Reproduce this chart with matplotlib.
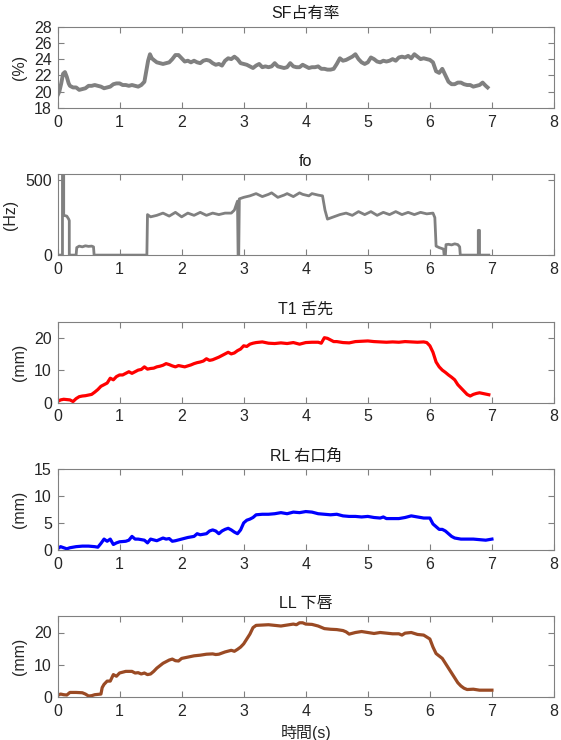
import numpy as np
import matplotlib
matplotlib.use("Agg")
import matplotlib.pyplot as plt

plt.rcParams['font.family'] = ['Liberation Sans', 'Noto Sans CJK JP']

# -----------------------------
# data
# -----------------------------
sf_t = [0.0, 0.03, 0.06, 0.09, 0.12, 0.15, 0.18, 0.2, 0.25, 0.3, 0.35, 0.4, 0.45, 0.5,
        0.55, 0.6, 0.65, 0.7, 0.75, 0.8, 0.85, 0.9, 0.95, 1.0, 1.05, 1.1, 1.15, 1.2,
        1.25, 1.3, 1.35, 1.4, 1.43, 1.46, 1.49, 1.52, 1.55, 1.6, 1.65, 1.7, 1.75, 1.8,
        1.85, 1.9, 1.95, 2.0, 2.05, 2.1, 2.15, 2.2, 2.25, 2.3, 2.35, 2.4, 2.45, 2.5,
        2.55, 2.6, 2.65, 2.7, 2.75, 2.8, 2.85, 2.9, 2.95, 3.0, 3.05, 3.1, 3.15, 3.2,
        3.25, 3.3, 3.35, 3.4, 3.45, 3.5, 3.55, 3.6, 3.65, 3.7, 3.75, 3.8, 3.85, 3.9,
        3.95, 4.0, 4.05, 4.1, 4.15, 4.2, 4.25, 4.3, 4.35, 4.4, 4.45, 4.5, 4.55, 4.6,
        4.65, 4.7, 4.75, 4.8, 4.85, 4.9, 4.95, 5.0, 5.05, 5.1, 5.15, 5.2, 5.25, 5.3,
        5.35, 5.4, 5.45, 5.5, 5.55, 5.6, 5.65, 5.7, 5.75, 5.8, 5.85, 5.9, 5.95, 6.0,
        6.05, 6.1, 6.15, 6.2, 6.25, 6.3, 6.35, 6.4, 6.45, 6.5, 6.55, 6.6, 6.65, 6.7,
        6.75, 6.8, 6.85, 6.9, 6.93]
sf_v = [19.5, 20.0, 21.0, 22.2, 22.4, 21.8, 21.0, 20.7, 20.5, 20.5, 20.2, 20.3, 20.4, 20.7,
        20.7, 20.8, 20.7, 20.6, 20.4, 20.5, 20.6, 20.9, 21.0, 21.0, 20.8, 20.8, 20.7, 20.8,
        20.7, 20.6, 20.8, 21.2, 22.5, 23.8, 24.6, 24.1, 23.9, 23.6, 23.5, 23.4, 23.5, 23.6,
        24.0, 24.5, 24.5, 24.1, 23.7, 23.8, 23.6, 23.8, 23.6, 23.5, 23.8, 23.9, 23.8, 23.5,
        23.3, 23.4, 23.2, 23.8, 24.1, 24.0, 24.3, 24.0, 23.5, 23.4, 23.3, 23.1, 22.9, 23.2,
        23.4, 23.0, 23.1, 23.0, 23.1, 23.5, 23.1, 23.0, 22.9, 23.0, 23.5, 23.1, 23.0, 23.0,
        23.3, 23.1, 22.9, 23.0, 23.0, 23.1, 22.8, 22.8, 22.7, 22.7, 22.8, 23.4, 24.1, 23.8,
        23.9, 24.1, 24.3, 24.6, 24.0, 23.6, 23.4, 23.6, 24.2, 24.0, 23.7, 23.6, 23.8, 23.7,
        23.8, 24.0, 23.8, 24.2, 24.3, 24.2, 24.4, 24.1, 24.6, 24.3, 24.0, 24.1, 24.0, 23.9,
        23.6, 22.5, 22.3, 22.8, 22.0, 21.2, 20.9, 20.9, 21.1, 21.1, 20.9, 20.8, 20.8, 20.6,
        20.7, 20.8, 21.1, 20.7, 20.5]

fo_t = [0.0, 0.08, 0.08, 0.1, 0.1, 0.15, 0.18, 0.19, 0.19, 0.3, 0.31, 0.35, 0.4, 0.45,
        0.5, 0.55, 0.58, 0.59, 1.44, 1.45, 1.5, 1.6, 1.7, 1.8, 1.9, 2.0, 2.1, 2.2, 2.3,
        2.4, 2.5, 2.6, 2.7, 2.8, 2.85, 2.9, 2.91, 2.92, 2.93, 3.0, 3.1, 3.2, 3.3, 3.4,
        3.45, 3.55, 3.65, 3.7, 3.8, 3.9, 3.95, 4.05, 4.1, 4.2, 4.27, 4.31, 4.35, 4.45,
        4.55, 4.65, 4.75, 4.85, 4.95, 5.05, 5.15, 5.25, 5.35, 5.45, 5.55, 5.65, 5.75,
        5.85, 5.95, 6.05, 6.08, 6.1, 6.15, 6.22, 6.23, 6.25, 6.26, 6.3, 6.35, 6.4, 6.45,
        6.48, 6.49, 6.78, 6.78, 6.8, 6.8, 6.95]
fo_v = [0, 0, 560, 560, 265, 260, 240, 230, 0, 0, 50, 60, 55, 62,
        58, 60, 55, 0, 0, 270, 255, 265, 280, 260, 285, 255, 280, 265, 285,
        265, 280, 270, 280, 280, 300, 360, 0, 0, 375, 385, 395, 410, 390, 405,
        415, 385, 400, 410, 390, 415, 405, 395, 410, 400, 395, 300, 240, 255,
        270, 280, 265, 290, 270, 290, 265, 285, 270, 290, 270, 285, 270,
        285, 275, 280, 250, 60, 50, 40, 0, 0, 70, 72, 68, 75, 70,
        55, 0, 0, 165, 165, 0, 0]

t1_t = [0.0, 0.05, 0.1, 0.15, 0.2, 0.25, 0.3, 0.35, 0.4, 0.45, 0.5, 0.55, 0.6, 0.65,
        0.7, 0.75, 0.8, 0.85, 0.9, 0.95, 1.0, 1.05, 1.1, 1.15, 1.2, 1.25, 1.3, 1.35,
        1.4, 1.45, 1.5, 1.55, 1.6, 1.65, 1.7, 1.75, 1.8, 1.85, 1.9, 1.95, 2.0, 2.05,
        2.1, 2.15, 2.2, 2.25, 2.3, 2.35, 2.4, 2.45, 2.5, 2.55, 2.6, 2.65, 2.7, 2.75,
        2.8, 2.85, 2.9, 2.95, 3.0, 3.05, 3.1, 3.15, 3.2, 3.3, 3.4, 3.5, 3.6, 3.7, 3.8,
        3.9, 4.0, 4.1, 4.2, 4.25, 4.3, 4.35, 4.4, 4.45, 4.5, 4.6, 4.7, 4.8, 4.9, 5.0,
        5.1, 5.2, 5.3, 5.4, 5.5, 5.6, 5.7, 5.8, 5.9, 5.95, 6.0, 6.05, 6.1, 6.15, 6.2,
        6.25, 6.3, 6.35, 6.4, 6.45, 6.5, 6.55, 6.6, 6.65, 6.7, 6.75, 6.8, 6.85, 6.9,
        6.95]
t1_v = [0.3, 0.8, 1.0, 0.9, 0.8, 0.3, 1.2, 1.8, 2.0, 2.1, 2.3, 2.5, 3.2, 4.0,
        5.0, 5.5, 6.0, 7.5, 7.0, 8.0, 8.5, 8.5, 9.0, 9.5, 9.0, 9.5, 10.0, 10.2,
        11.0, 10.3, 10.5, 10.6, 11.0, 11.2, 11.5, 12.0, 11.7, 11.3, 11.0, 11.4, 11.2, 11.0,
        11.3, 11.6, 12.0, 12.3, 12.5, 12.8, 13.5, 13.0, 13.2, 13.6, 14.0, 14.5, 15.0, 15.5,
        15.0, 15.3, 16.0, 16.5, 17.5, 17.3, 18.0, 18.3, 18.5, 18.7, 18.3, 18.2, 18.4, 18.2, 18.5,
        18.0, 18.5, 18.6, 18.6, 18.3, 20.0, 19.8, 19.3, 18.8, 18.8, 18.5, 18.4, 18.8, 18.9, 19.0,
        18.8, 18.7, 18.6, 18.7, 18.6, 18.8, 18.7, 18.6, 18.7, 18.5, 17.5, 15.5, 12.5, 11.0, 10.0,
        9.3, 8.5, 7.8, 7.0, 5.5, 4.5, 3.5, 2.5, 2.0, 2.5, 2.8, 3.0, 2.8, 2.6,
        2.4]

rl_t = [0.0, 0.05, 0.1, 0.15, 0.2, 0.3, 0.4, 0.5, 0.6, 0.65, 0.7, 0.75, 0.8, 0.85,
        0.9, 0.95, 1.0, 1.1, 1.15, 1.2, 1.25, 1.3, 1.4, 1.45, 1.5, 1.6, 1.7, 1.75,
        1.8, 1.85, 1.9, 2.0, 2.1, 2.2, 2.25, 2.3, 2.4, 2.45, 2.5, 2.55, 2.6, 2.65,
        2.7, 2.75, 2.8, 2.85, 2.9, 2.95, 3.0, 3.05, 3.1, 3.15, 3.2, 3.3, 3.4, 3.5,
        3.6, 3.7, 3.8, 3.9, 4.0, 4.1, 4.2, 4.3, 4.4, 4.5, 4.6, 4.7, 4.8, 4.9, 5.0,
        5.1, 5.2, 5.25, 5.3, 5.4, 5.5, 5.6, 5.7, 5.8, 5.9, 6.0, 6.05, 6.1, 6.15, 6.2,
        6.25, 6.3, 6.35, 6.4, 6.5, 6.6, 6.7, 6.8, 6.9, 6.95, 7.0]
rl_v = [0.2, 0.6, 0.4, 0.2, 0.4, 0.6, 0.7, 0.7, 0.6, 0.5, 1.2, 2.0, 1.6, 2.0,
        1.0, 1.3, 1.5, 1.6, 1.8, 2.5, 2.0, 2.0, 1.8, 1.3, 2.0, 1.7, 2.2, 2.0,
        2.1, 1.6, 1.7, 2.0, 2.3, 2.5, 3.0, 2.8, 3.0, 3.5, 3.7, 3.5, 3.0, 3.5,
        3.8, 4.0, 3.7, 3.3, 3.0, 3.7, 5.0, 5.5, 5.7, 6.0, 6.5, 6.6, 6.6, 6.7,
        6.9, 6.7, 7.0, 6.9, 7.1, 7.0, 6.7, 6.6, 6.5, 6.6, 6.3, 6.2, 6.2, 6.1, 6.2,
        6.0, 5.9, 6.1, 5.8, 5.8, 5.8, 6.0, 6.3, 6.1, 5.9, 5.9, 4.8, 4.3, 3.8, 3.8,
        3.5, 3.0, 2.5, 2.2, 2.0, 2.0, 2.0, 1.9, 1.8, 1.9, 2.0]

ll_t = [0.0, 0.05, 0.1, 0.15, 0.2, 0.3, 0.4, 0.45, 0.5, 0.55, 0.6, 0.65, 0.7, 0.72,
        0.75, 0.8, 0.85, 0.9, 0.95, 1.0, 1.1, 1.2, 1.25, 1.3, 1.35, 1.4, 1.45, 1.5,
        1.55, 1.6, 1.7, 1.75, 1.8, 1.85, 1.9, 1.95, 2.0, 2.1, 2.2, 2.3, 2.4, 2.5,
        2.55, 2.6, 2.7, 2.8, 2.85, 2.9, 2.95, 3.0, 3.05, 3.1, 3.15, 3.2, 3.3, 3.4,
        3.5, 3.6, 3.7, 3.8, 3.85, 3.9, 3.95, 4.0, 4.1, 4.2, 4.3, 4.4, 4.5, 4.6, 4.65,
        4.7, 4.8, 4.9, 5.0, 5.1, 5.2, 5.3, 5.4, 5.5, 5.55, 5.6, 5.7, 5.8, 5.9, 6.0,
        6.05, 6.1, 6.2, 6.3, 6.4, 6.45, 6.5, 6.55, 6.6, 6.7, 6.8, 6.9, 7.0]
ll_v = [0.6, 1.0, 0.8, 0.7, 1.5, 1.5, 1.4, 1.0, 0.4, 0.5, 0.8, 0.9, 1.0, 3.0,
        4.0, 5.0, 5.0, 7.0, 6.5, 7.5, 8.0, 8.0, 7.5, 7.6, 7.2, 7.5, 7.0, 7.2,
        8.0, 9.0, 10.5, 11.0, 11.5, 11.8, 11.3, 11.2, 12.0, 12.4, 12.8, 13.0, 13.3, 13.4,
        13.2, 13.3, 14.0, 14.5, 14.2, 14.8, 15.5, 16.5, 18.0, 19.5, 21.5, 22.2, 22.3, 22.4,
        22.2, 22.0, 22.3, 22.6, 22.4, 23.0, 23.0, 22.6, 22.5, 22.0, 21.2, 21.0, 20.9, 20.6, 20.2,
        19.5, 20.0, 20.3, 20.0, 19.7, 20.0, 19.8, 19.6, 19.6, 19.2, 19.8, 20.0, 19.4, 19.2, 18.0,
        15.5, 13.5, 12.0, 9.0, 6.0, 4.5, 3.5, 2.8, 2.4, 2.5, 2.2, 2.2, 2.2]

panels = [
    ("SF占有率", "(%)", sf_t, sf_v, "#808080", 2.8, (18, 28), [18, 20, 22, 24, 26, 28]),
    ("fo", "(Hz)", fo_t, fo_v, "#808080", 2.0, (0, 540), [0, 500]),
    ("T1 舌先", "(mm)", t1_t, t1_v, "#ff0000", 2.3, (0, 25), [0, 10, 20]),
    ("RL 右口角", "(mm)", rl_t, rl_v, "#0000ff", 2.3, (0, 15), [0, 5, 10, 15]),
    ("LL 下唇", "(mm)", ll_t, ll_v, "#9a4a24", 2.3, (0, 25), [0, 10, 20]),
]

fig = plt.figure(figsize=(5.61, 7.40), dpi=100)
W, H = 561.0, 740.0
left, right = 57.5, 554.0
ax_h = 81.0
for i, (title, ylab, t, v, col, lw, ylim, yticks) in enumerate(panels):
    bottom_px = 107.7 + 147.4 * i
    ax = fig.add_axes([left / W, 1 - bottom_px / H, (right - left) / W, ax_h / H])
    ax.plot(np.array(t), np.array(v), color=col, linewidth=lw, solid_joinstyle="round")
    ax.set_xlim(0, 8)
    ax.set_ylim(*ylim)
    ax.set_xticks(range(0, 9))
    ax.set_yticks(yticks)
    ax.tick_params(direction="in", length=4, width=0.8, top=True, right=True,
                   labelsize=11.5, colors="#808080", labelcolor="#262626")
    ax.tick_params(axis="x", pad=5)
    ax.tick_params(axis="y", pad=4)
    for sp in ax.spines.values():
        sp.set_color("#808080")
        sp.set_linewidth(0.8)
    ax.set_title(title, fontsize=11.5, color="#1a1a1a", pad=6)
    ax.set_ylabel(ylab, fontsize=11.5, color="#262626", labelpad=5)
    if i == len(panels) - 1:
        ax.set_xlabel("時間(s)", fontsize=11.5, color="#262626", labelpad=4)

fig.savefig("out.png", dpi=100)
